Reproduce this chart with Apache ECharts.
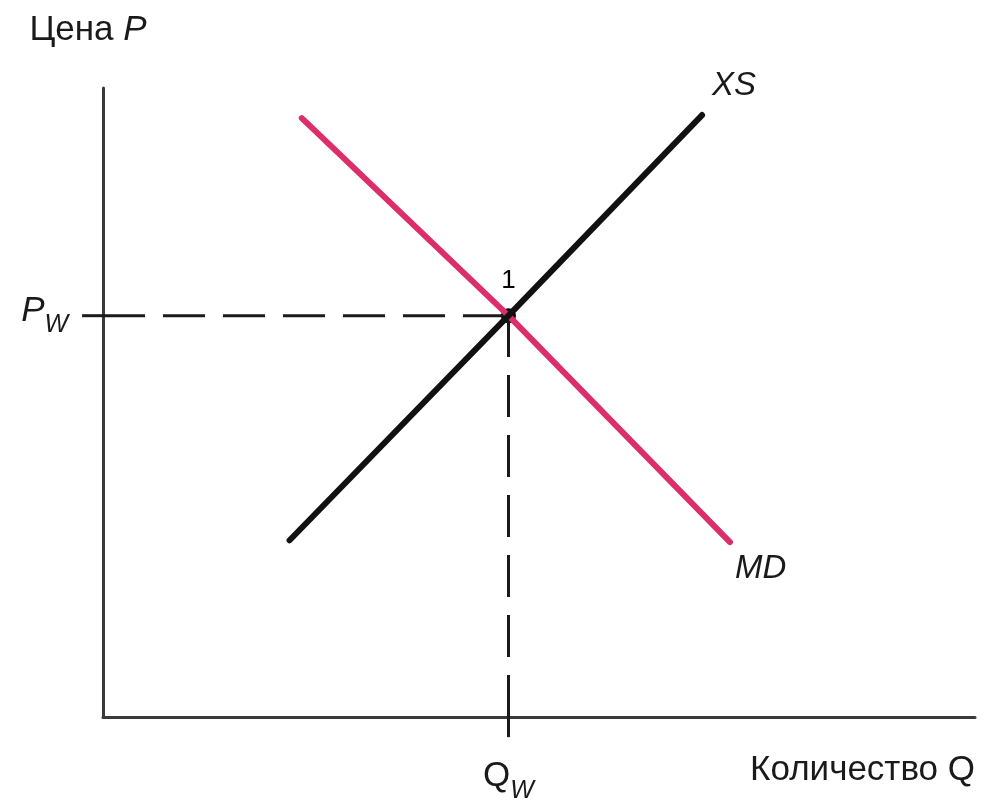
<!DOCTYPE html>
<html>
<head>
<meta charset="utf-8">
<title>XS / MD</title>
<script src="https://cdn.jsdelivr.net/npm/echarts@6/dist/echarts.min.js"></script>
<style>
  html, body { margin: 0; padding: 0; background: #fff; }
  #chart { width: 986px; height: 803px; }
</style>
</head>
<body>
<div id="chart"></div>
<script>
// Кривые экспортного предложения (XS) и импортного спроса (MD)
const qw = 46.5
const pw = 63.8
const xsQ = [21.4, qw, 68.7]
const xsP = [28.1, pw, 95.7]
const mdQ = [22.8, qw, 71.9]
const mdP = [95.2, pw, 27.8]
// риски на осях чуть заходят за оси
const tickLeftQ = -2.4
const tickBottomP = -3.2

const chart = echarts.init(document.getElementById('chart'))

const font = '"Liberation Sans", Arial, sans-serif'
const ink = '#1a1a1a'

function pairs(xs, ys) {
  return xs.map((x, i) => [x, ys[i]])
}

function dashed(data) {
  return {
    type: 'line',
    symbol: 'none',
    silent: true,
    lineStyle: { color: ink, width: 3, type: [42, 18] },
    data: data
  }
}

function curve(name, xs, ys, color, offset) {
  return {
    name: name,
    type: 'line',
    symbol: 'none',
    lineStyle: { color: color, width: 6, cap: 'round' },
    endLabel: {
      show: true,
      formatter: name,
      distance: 5,
      offset: offset,
      color: ink,
      fontFamily: font,
      fontStyle: 'italic',
      fontSize: 33
    },
    data: pairs(xs, ys)
  }
}

chart.setOption({
  animation: false,
  grid: { left: 103, right: 11, top: 88, bottom: 86 },
  xAxis: {
    type: 'value',
    min: 0,
    max: 100,
    name: 'Количество Q',
    nameLocation: 'end',
    nameGap: 0,
    nameTextStyle: {
      color: ink,
      fontFamily: font,
      fontSize: 35,
      align: 'right',
      verticalAlign: 'top',
      padding: [36, 0, 0, 0]
    },
    axisLine: { show: true, lineStyle: { color: '#3a3a3a', width: 3 } },
    axisTick: { show: false },
    axisLabel: { show: false },
    splitLine: { show: false }
  },
  yAxis: {
    type: 'value',
    min: 0,
    max: 100,
    name: 'Цена {i|P}',
    nameLocation: 'end',
    nameGap: 40,
    nameTextStyle: {
      color: ink,
      fontFamily: font,
      fontSize: 35,
      align: 'center',
      padding: [0, 30, 0, 0],
      rich: {
        i: { fontStyle: 'italic', fontSize: 35, fontFamily: font, color: ink }
      }
    },
    axisLine: { show: true, lineStyle: { color: '#3a3a3a', width: 3 } },
    axisTick: { show: false },
    axisLabel: { show: false },
    splitLine: { show: false }
  },
  series: [
    dashed([[0, pw], [qw, pw]]),
    dashed([[qw, 0], [qw, pw]]),
    {
      // короткие риски Pw и Qw за осями
      type: 'custom',
      silent: true,
      clip: false,
      data: [[tickLeftQ, pw, 0, pw], [qw, 0, qw, tickBottomP]],
      renderItem: function (params, api) {
        const a = api.coord([api.value(0), api.value(1)])
        const b = api.coord([api.value(2), api.value(3)])
        return {
          type: 'line',
          shape: { x1: a[0], y1: a[1], x2: b[0], y2: b[1] },
          style: { stroke: ink, lineWidth: 3 }
        }
      }
    },
    curve('MD', mdQ, mdP, '#db2e6a', [0, 27]),
    curve('XS', xsQ, xsP, '#111', [5, -29]),
    {
      name: 'Равновесие',
      type: 'scatter',
      symbol: 'circle',
      symbolSize: 15,
      itemStyle: { color: '#000', opacity: 1 },
      label: {
        show: true,
        position: 'top',
        distance: 14,
        formatter: '1',
        color: '#000',
        fontFamily: font,
        fontSize: 26
      },
      data: [[qw, pw]]
    },
    {
      // подписи Pw и Qw у рисок
      name: 'Подписи',
      type: 'scatter',
      clip: false,
      silent: true,
      symbolSize: 0,
      itemStyle: { color: 'rgba(0,0,0,0)', opacity: 1 },
      data: [
        {
          value: [tickLeftQ, pw],
          label: {
            show: true,
            position: 'left',
            distance: 14,
            formatter: '{p|P}{w|W}',
            rich: {
              p: { fontFamily: font, fontStyle: 'italic', fontSize: 35, color: ink, lineHeight: 44, verticalAlign: 'top' },
              w: { fontFamily: font, fontStyle: 'italic', fontSize: 25, color: ink, lineHeight: 44, verticalAlign: 'bottom' }
            }
          }
        },
        {
          value: [qw, tickBottomP],
          label: {
            show: true,
            position: 'bottom',
            distance: 22,
            formatter: '{q|Q}{w|W}',
            rich: {
              q: { fontFamily: font, fontSize: 35, color: ink, lineHeight: 44, verticalAlign: 'top' },
              w: { fontFamily: font, fontStyle: 'italic', fontSize: 25, color: ink, lineHeight: 44, verticalAlign: 'bottom' }
            }
          }
        }
      ]
    }
  ]
})
</script>
</body>
</html>
